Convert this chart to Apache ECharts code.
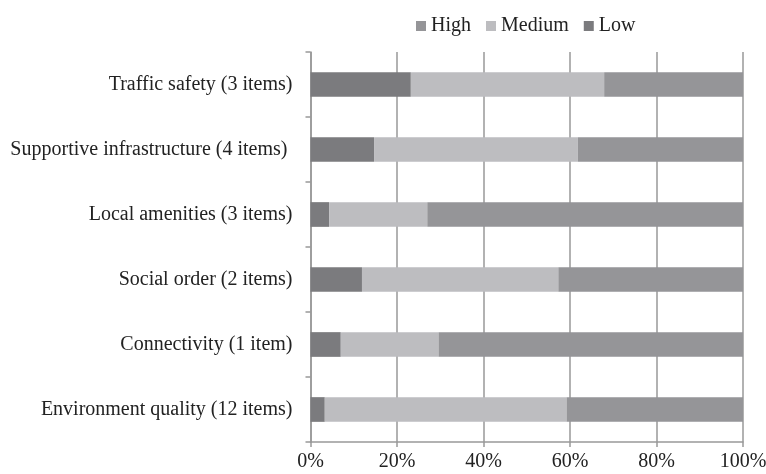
<!DOCTYPE html>
<html><head><meta charset="utf-8">
<script src="https://cdn.jsdelivr.net/npm/echarts@6/dist/echarts.min.js"></script>
<style>html,body{margin:0;padding:0;background:#fff}#c{width:766px;height:474px}</style>
</head><body><div id="c"></div>
<script>
const categories = ['Environment quality (12 items)','Connectivity (1 item)','Social order (2 items)','Local amenities (3 items)','Supportive infrastructure (4 items) ','Traffic safety (3 items)'];
const lowValues = [3.3, 7.0, 11.9, 4.3, 14.7, 23.2];
const mediumValues = [55.9, 22.6, 45.4, 22.7, 47.1, 44.7];
const highValues = [40.8, 70.4, 42.7, 73.0, 38.2, 32.1];
const xTicks = [0, 20, 40, 60, 80, 100];

const font = 'Liberation Serif';
const chart = echarts.init(document.getElementById('c'));
const mk = (name, data, color) => ({
  name, type: 'bar', stack: 'total', data, barWidth: '38%',
  itemStyle: { color }, emphasis: { disabled: true }
});
chart.setOption({
  animation: false,
  textStyle: { fontFamily: font, color: '#222' },
  legend: {
    data: ['High', 'Medium', 'Low'], top: 11, left: 411,
    icon: 'rect', itemWidth: 10, itemHeight: 10, itemGap: 15,
    textStyle: { fontFamily: font, fontSize: 20, color: '#222' }
  },
  grid: { left: 310.5, right: 23, top: 52, bottom: 32, containLabel: false, outerBoundsMode: 'none' },
  xAxis: {
    type: 'value', min: xTicks[0], max: xTicks[xTicks.length - 1], interval: 20,
    axisLabel: { formatter: v => v + '%', fontFamily: font, fontSize: 20, color: '#222', margin: 10 },
    axisLine: { show: true, lineStyle: { color: '#999', width: 1.5 } },
    axisTick: { show: true, length: 5, lineStyle: { color: '#999', width: 1.5 } },
    splitLine: { lineStyle: { color: '#999', width: 1.5 } }
  },
  yAxis: {
    type: 'category', data: categories,
    axisLabel: { fontFamily: font, fontSize: 20, color: '#222', margin: 18 },
    axisLine: { lineStyle: { color: '#999', width: 1.5 } },
    axisTick: { show: true, length: 5, lineStyle: { color: '#999', width: 1.5 } }
  },
  series: [
    mk('Low', lowValues, '#7b7b7e'),
    mk('Medium', mediumValues, '#bdbdc0'),
    mk('High', highValues, '#959598')
  ]
});
</script></body></html>
